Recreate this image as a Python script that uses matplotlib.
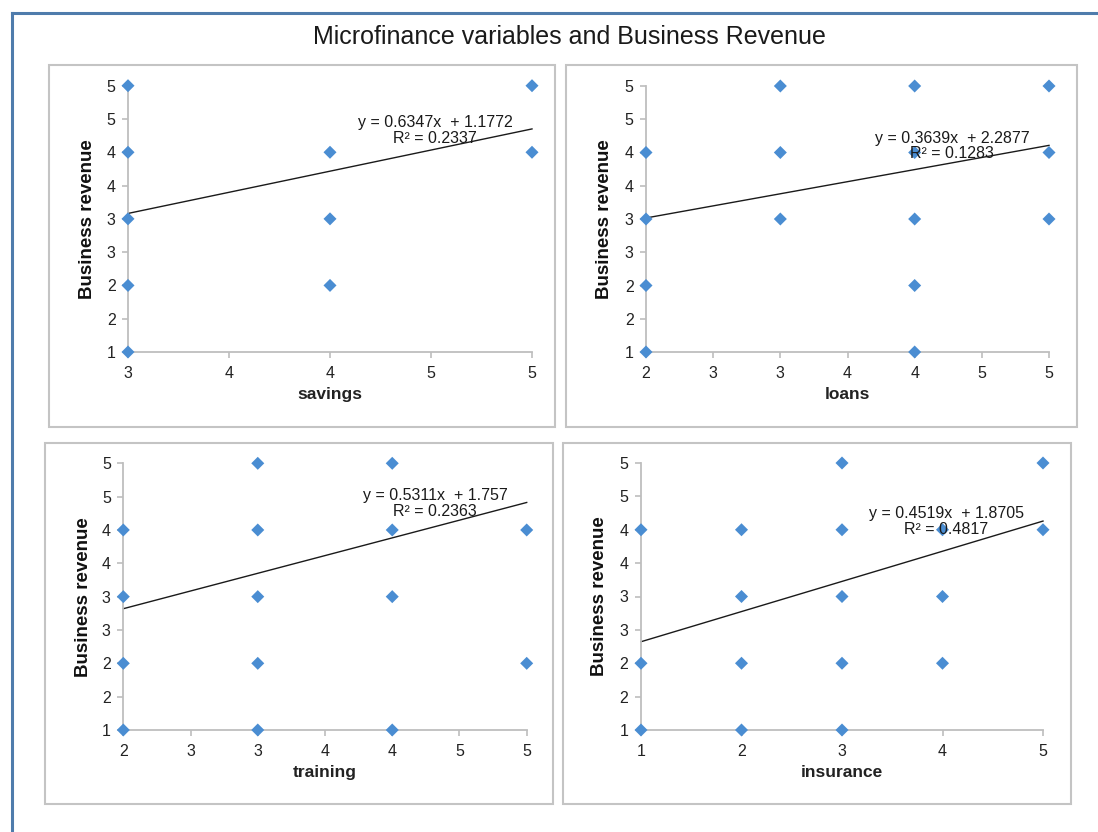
import numpy as np
import matplotlib
matplotlib.use("Agg")
import matplotlib.pyplot as plt
from matplotlib.ticker import FuncFormatter, MultipleLocator
from matplotlib.patches import Rectangle
from matplotlib.lines import Line2D

plt.rcParams['font.family'] = ['Liberation Sans', 'DejaVu Sans']

# ---------------- data ----------------
title = "Microfinance variables and Business Revenue"
y_label = "Business revenue"
x_labels = ["savings", "loans", "training", "insurance"]

savings_x = [3, 3, 3, 3, 3, 4, 4, 4, 5, 5]
savings_y = [5, 4, 3, 2, 1, 4, 3, 2, 5, 4]

loans_x = [2, 2, 2, 2, 3, 3, 3, 4, 4, 4, 4, 4, 5, 5, 5]
loans_y = [4, 3, 2, 1, 5, 4, 3, 5, 4, 3, 2, 1, 5, 4, 3]

training_x = [2, 2, 2, 2, 3, 3, 3, 3, 3, 4, 4, 4, 4, 5, 5]
training_y = [4, 3, 2, 1, 5, 4, 3, 2, 1, 5, 4, 3, 1, 4, 2]

insurance_x = [1, 1, 1, 2, 2, 2, 2, 3, 3, 3, 3, 3, 4, 4, 4, 5, 5]
insurance_y = [4, 2, 1, 4, 3, 2, 1, 5, 4, 3, 2, 1, 4, 3, 2, 5, 4]

slopes = [0.6347, 0.3639, 0.5311, 0.4519]
intercepts = ["1.1772", "2.2877", "1.757", "1.8705"]
r_squared = ["0.2337", "0.1283", "0.2363", "0.4817"]

x_ranges = [(3, 5), (2, 5), (2, 5), (1, 5)]
x_steps = [0.5, 0.5, 0.5, 1]

# ---------------- layout (pixels) ----------------
W, H = 1098, 832
fig = plt.figure(figsize=(W / 100, H / 100), dpi=100)
fig.patch.set_facecolor("white")

def fx(px):
    return px / W

def fy(py):
    return 1 - py / H

# outer blue frame (top and left edges)
fig.add_artist(Line2D([fx(12), fx(1098)], [fy(13), fy(13)], color="#4F7CAC", lw=2.2))
fig.add_artist(Line2D([fx(12), fx(12)], [fy(13), fy(832)], color="#4F7CAC", lw=2.2))

fig.text(fx(569), fy(37), title, ha="center", va="center", fontsize=18, color="#1a1a1a")

panel_boxes = [(49, 65, 555, 427), (566, 65, 1077, 427),
               (45, 443, 553, 804), (563, 443, 1071, 804)]
for (l, t, r, b) in panel_boxes:
    fig.add_artist(Rectangle((fx(l), fy(b)), fx(r) - fx(l), fy(t) - fy(b),
                             transform=fig.transFigure, fill=False,
                             edgecolor="#C4C4C4", lw=1.5))

axes_boxes = [(128, 85.7, 532, 352), (646, 86, 1049, 352),
              (123.3, 463.3, 526.7, 730), (641, 463, 1043, 730)]

eq_pos = [(4.52, 4.33), (4.28, 4.10), (4.32, 4.40), (4.04, 4.12)]
ylab_off = [-0.100, -0.102, -0.099, -0.104]

xs = [savings_x, loans_x, training_x, insurance_x]
ys = [savings_y, loans_y, training_y, insurance_y]

fmt = FuncFormatter(lambda v, p: str(int(np.floor(v + 0.5 + 1e-9))))
axis_grey = "#BEBEBE"
marker_col = "#4A8DD2"

for i in range(4):
    l, t, r, b = axes_boxes[i]
    ax = fig.add_axes([fx(l), fy(b), fx(r) - fx(l), fy(t) - fy(b)])
    ax.set_facecolor("none")
    x0, x1 = x_ranges[i]
    ax.set_xlim(x0, x1)
    ax.set_ylim(1, 5)
    ax.scatter(xs[i], ys[i], marker="D", s=44, color=marker_col,
               edgecolors="none", zorder=3, clip_on=False)
    tx = np.array([x0, x1], dtype=float)
    ax.plot(tx, slopes[i] * tx + float(intercepts[i]), color="#1a1a1a", lw=1.0, zorder=2,
            clip_on=False)
    ax.text(eq_pos[i][0], eq_pos[i][1],
            "y = %sx  + %s\nR² = %s" % (("%.4f" % slopes[i]), intercepts[i], r_squared[i]),
            ha="center", va="center", multialignment="center",
            fontsize=11.5, color="#1a1a1a", linespacing=1.05, zorder=4)

    for s in ["top", "right"]:
        ax.spines[s].set_visible(False)
    for s in ["left", "bottom"]:
        ax.spines[s].set_color(axis_grey)
        ax.spines[s].set_linewidth(1.3)
    ax.xaxis.set_major_locator(MultipleLocator(x_steps[i]))
    ax.yaxis.set_major_locator(MultipleLocator(0.5))
    ax.xaxis.set_major_formatter(fmt)
    ax.yaxis.set_major_formatter(fmt)
    ax.tick_params(axis="both", direction="out", length=4, width=1.2,
                   color=axis_grey, labelsize=11.5, labelcolor="#222222")
    ax.tick_params(axis="y", pad=5)
    ax.tick_params(axis="x", pad=6)

    ax.set_ylabel(y_label, fontsize=13.5, fontweight="bold", va="center", color="#111111")
    ax.yaxis.set_label_coords(ylab_off[i], 0.5)
    ax.set_xlabel(x_labels[i], fontsize=12.5, fontweight="bold", va="center", color="#222222")
    ax.xaxis.set_label_coords(0.5, -0.160)

fig.savefig("out.png", dpi=100, facecolor="white")
